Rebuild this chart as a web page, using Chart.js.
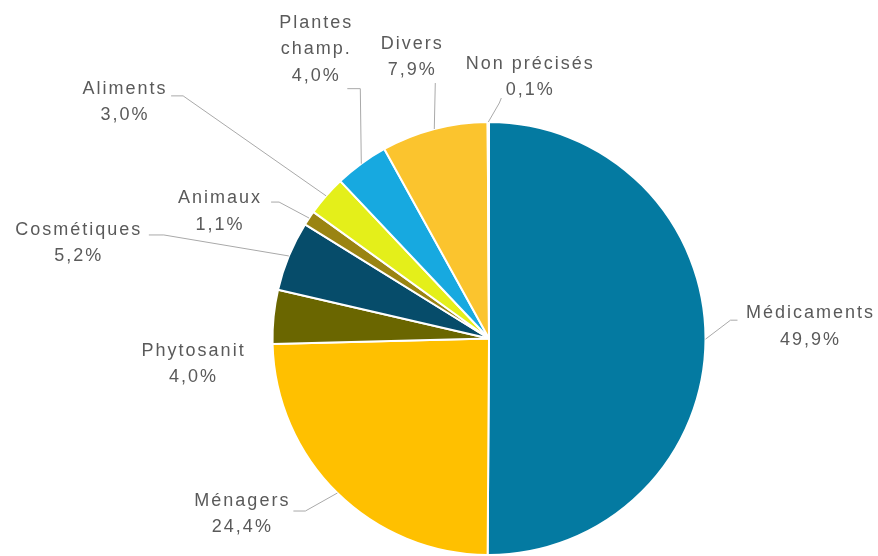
<!DOCTYPE html>
<html><head><meta charset="utf-8">
<script src="https://cdn.jsdelivr.net/npm/chart.js@4"></script>
<style>html,body{margin:0;padding:0;background:#fff}#c{display:block}</style>
</head><body>
<canvas id="c" width="878" height="556"></canvas>
<script>
const categories = ["Médicaments","Ménagers","Phytosanit","Cosmétiques","Animaux","Aliments","Plantes champ.","Divers","Non précisés"];
const values = [49.9, 24.4, 4.0, 5.2, 1.1, 3.0, 4.0, 7.9, 0.1];
const labelLines = [["Médicaments"],["Ménagers"],["Phytosanit"],["Cosmétiques"],["Animaux"],["Aliments"],["Plantes","champ."],["Divers"],["Non précisés"]];
const colors = ["#047aa1","#ffc000","#6a6600","#064c6a","#9a8412","#e4ef1a","#17a9e0","#fbc42e","#e8e8e8"];

// label layout: text offset (first line centre) and leader elbow/end, relative to slice edge midpoint
const labelLayout = [
  {t:[104,-26], e:[25,-19], f:[32,-19]},
  {t:[-96,8],  e:[-32,18], f:[-44,18]},
  {t:[-81,34], e:null, f:null},
  {t:[-211,-26], e:[-125,-21], f:[-140,-21]},
  {t:[-90,-20], e:[-30,-16], f:[-38,-16]},
  {t:[-202,-107], e:[-143,-100], f:[-155,-100]},
  {t:[-46,-141], e:[-1,-75], f:[-14,-75]},
  {t:[-23,-85], e:[1,-46], f:[1,-46]},
  {t:[41,-58], e:[11,-19], f:[13,-24]}
];

const fmt = v => v.toFixed(1).replace('.', ',') + '%';

const labelPlugin = {
  id: 'pieLabels',
  afterDraw(chart) {
    const ctx = chart.ctx;
    const meta = chart.getDatasetMeta(0);
    ctx.save();
    ctx.font = '18px "Liberation Sans", Arial, sans-serif';
    ctx.letterSpacing = '2px';
    ctx.textAlign = 'center';
    ctx.textBaseline = 'middle';
    meta.data.forEach((arc, i) => {
      const p = arc.getProps(['x','y','startAngle','endAngle','outerRadius'], true);
      const mid = (p.startAngle + p.endAngle) / 2;
      const ax = p.x + Math.cos(mid) * p.outerRadius;
      const ay = p.y + Math.sin(mid) * p.outerRadius;
      const L = labelLayout[i];
      if (L.e) {
        ctx.strokeStyle = '#a9a9a9';
        ctx.lineWidth = 1;
        ctx.beginPath();
        ctx.moveTo(ax, ay);
        ctx.lineTo(ax + L.e[0], ay + L.e[1]);
        ctx.lineTo(ax + L.f[0], ay + L.f[1]);
        ctx.stroke();
      }
      ctx.fillStyle = '#5a5a5a';
      const lines = labelLines[i].concat([fmt(values[i])]);
      lines.forEach((s, k) => {
        ctx.fillText(s, ax + L.t[0] + 1, ay + L.t[1] + k * 26.5);
      });
    });
    ctx.restore();
  }
};

new Chart(document.getElementById('c'), {
  type: 'pie',
  data: {
    labels: categories,
    datasets: [{
      data: values,
      backgroundColor: colors,
      borderColor: '#ffffff',
      borderWidth: 2
    }]
  },
  options: {
    responsive: false,
    animation: false,
    layout: { padding: { top: 121, bottom: 0, left: 100, right: 0 } },
    plugins: { legend: { display: false }, tooltip: { enabled: false } }
  },
  plugins: [labelPlugin]
});
</script>
</body></html>
